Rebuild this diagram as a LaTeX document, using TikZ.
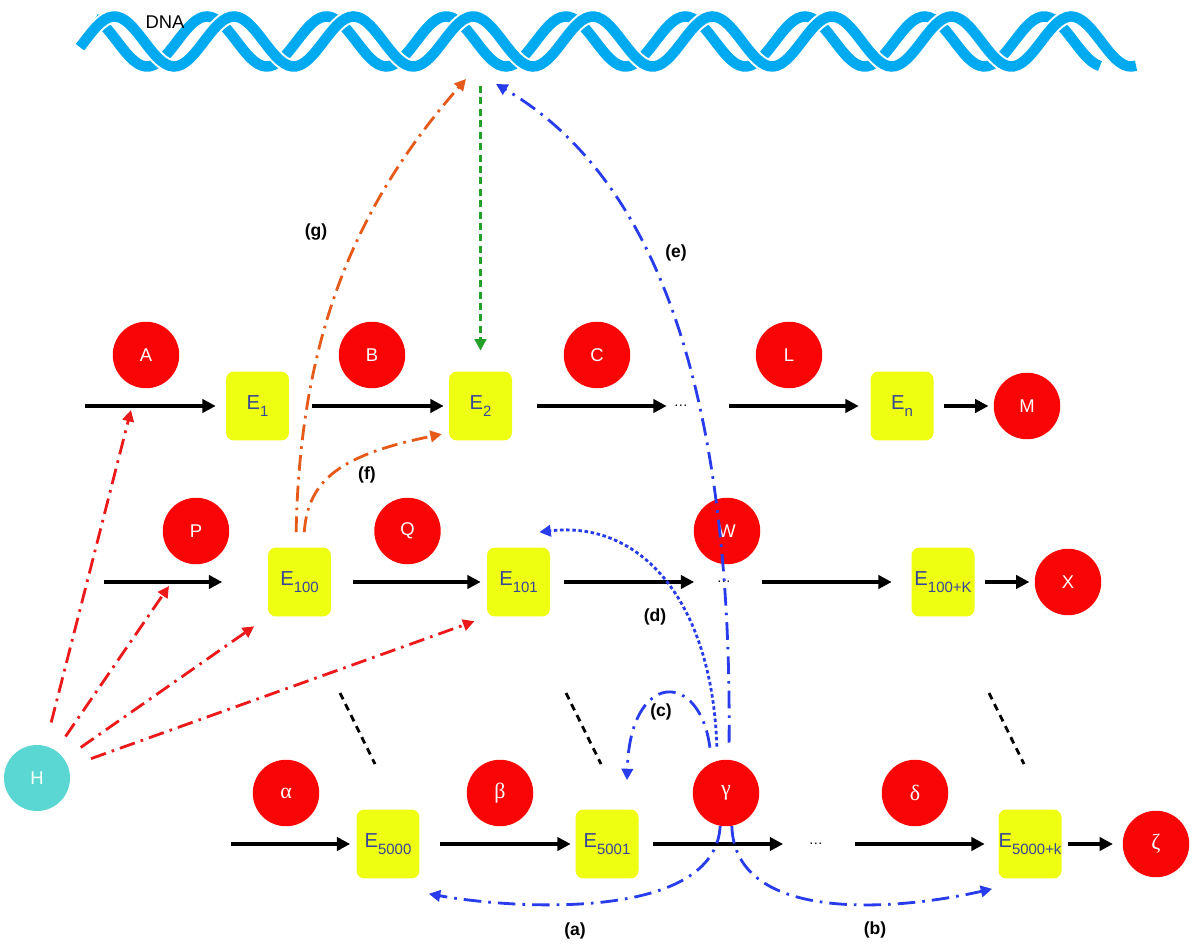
\documentclass[tikz,border=0pt]{standalone}
\usepackage{fontspec}
\setmainfont{Liberation Sans}
\newfontfamily\greekfont{Liberation Serif}
\usepackage{tikz}
\usetikzlibrary{arrows.meta}

\definecolor{dnablue}{RGB}{0,170,240}
\definecolor{molred}{RGB}{250,5,5}
\definecolor{enzyellow}{RGB}{238,255,18}
\definecolor{enztext}{RGB}{55,70,150}
\definecolor{hormcyan}{RGB}{90,215,210}
\definecolor{hred}{RGB}{235,25,25}
\definecolor{gorange}{RGB}{230,90,25}
\definecolor{dgreen}{RGB}{35,160,40}
\definecolor{fbblue}{RGB}{40,60,235}

\newcommand{\Esub}[1]{E\raisebox{-0.6ex}{\fontsize{8.5}{8.5}\selectfont #1}}
\newcommand{\gk}[1]{{\greekfont\fontsize{12.5}{12}\selectfont #1}}

\tikzset{
  mol/.style={circle, fill=molred, text=white, minimum size=1.33cm, inner sep=0pt,
    font=\fontsize{10.5}{12}\selectfont},
  enz/.style={rectangle, rounded corners=0.16cm, fill=enzyellow, text=enztext,
    minimum width=1.26cm, minimum height=1.38cm, inner sep=0pt,
    font=\fontsize{11.5}{12}\selectfont},
  dots/.style={inner sep=0pt, font=\fontsize{8}{8}\selectfont},
  lab/.style={font=\bfseries\fontsize{10}{12}\selectfont},
  flow/.style={line width=1.8pt, -{Triangle[length=7.5pt, width=7.5pt]}},
  ctrl/.style={line width=1.6pt, -{Triangle[length=6.5pt, width=6.5pt]}},
  hline/.style={ctrl, hred, dash pattern=on 9pt off 3.5pt on 1.5pt off 3.5pt},
  gline/.style={ctrl, gorange, dash pattern=on 9pt off 3.5pt on 1.5pt off 3.5pt},
  tline/.style={ctrl, dgreen, dash pattern=on 4pt off 2.5pt},
  fbline/.style={ctrl, fbblue, dash pattern=on 10pt off 4pt on 1.5pt off 4pt},
  fbdot/.style={ctrl, fbblue, dash pattern=on 2pt off 1.5pt},
  strand/.style={dnablue, line width=0.21cm},
  skip/.style={line width=1.6pt, dash pattern=on 4pt off 3pt}
}

\begin{document}
\begin{tikzpicture}[x=0.02cm, y=-0.02cm]
  \useasboundingbox (0,0) rectangle (1200,945);
  \def\rowa{406}
  \def\rowb{582}
  \def\rowc{844}
  % -------------------------------------------- DNA
  \draw[strand] plot[domain=95:1100, samples=260] (\x, {41.5+25*sin((\x-595.6)/119.6*360)});
  \draw[strand, white, line width=0.29cm] plot[domain=80:1136, samples=260] (\x, {41.5+25*sin((\x-622.6)/119.6*360)});
  \draw[strand] plot[domain=80:1136, samples=260] (\x, {41.5+25*sin((\x-622.6)/119.6*360)});
  \node[font=\fontsize{10.5}{12}\selectfont] at (165, 22) (dna_lab) {DNA};
  \coordinate (dna_g) at (466, 79);
  \coordinate (dna_t) at (480.5, 86);
  \coordinate (dna_e) at (496, 84);
  % -------------------------------------------- pathway 1
  % set the nodes
  \node[mol] at (146, 355) (r1_a) {A};
  \node[mol] at (372, 355) (r1_b) {B};
  \node[mol] at (597, 355) (r1_c) {C};
  \node[mol] at (789, 355) (r1_l) {L};
  \coordinate (r1_in) at (85, \rowa);
  \node[enz] at (257.5, \rowa) (r1_e1) {\Esub{1}};
  \node[enz] at (480.5, \rowa) (r1_e2) {\Esub{2}};
  \node[dots] at (681, \rowa) (r1_dots) {\ldots};
  \node[enz] at (902, \rowa) (r1_en) {\Esub{n}};
  \node[mol] at (1027, \rowa) (r1_m) {M};
  % draw edges
  \draw[flow, shorten >=0.2cm] (r1_in) -- (r1_e1);
  \draw[flow, shorten <=0.46cm, shorten >=0.1cm] (r1_e1) -- (r1_e2);
  \draw[flow, shorten <=0.5cm, shorten >=0.14cm] (r1_e2) -- (r1_dots);
  \draw[flow, shorten <=0.82cm, shorten >=0.23cm] (r1_dots) -- (r1_en);
  \draw[flow, shorten <=0.21cm, shorten >=0.1cm] (r1_en) -- (r1_m);
  % -------------------------------------------- pathway 2
  % set the nodes
  \node[mol] at (196, 531) (r2_p) {P};
  \node[mol] at (407.5, 531) (r2_q) {Q};
  \node[mol] at (727, 531) (r2_w) {W};
  \coordinate (r2_in) at (104, \rowb);
  \node[enz] at (299.5, \rowb) (r2_e100) {\Esub{100}};
  \node[enz] at (518.5, \rowb) (r2_e101) {\Esub{101}};
  \node[dots] at (724, \rowb) (r2_dots) {\ldots};
  \node[enz] at (943, \rowb) (r2_ek) {\Esub{100+K}};
  \node[mol] at (1068, \rowb) (r2_x) {X};
  % draw edges
  \draw[flow, shorten >=0.91cm] (r2_in) -- (r2_e100);
  \draw[flow, shorten <=0.44cm, shorten >=0.12cm] (r2_e100) -- (r2_e101);
  \draw[flow, shorten <=0.27cm, shorten >=0.45cm] (r2_e101) -- (r2_dots);
  \draw[flow, shorten <=0.62cm, shorten >=0.39cm] (r2_dots) -- (r2_ek);
  \draw[flow, shorten <=0.21cm, shorten >=0.1cm] (r2_ek) -- (r2_x);
  % -------------------------------------------- pathway 3
  % set the nodes
  \node[mol] at (286, 793) (r3_alpha) {\gk{α}};
  \node[mol] at (500, 793) (r3_beta) {\gk{β}};
  \node[mol] at (726, 793) (r3_gamma) {\gk{γ}};
  \node[mol] at (915, 793) (r3_delta) {\gk{δ}};
  \coordinate (r3_in) at (231, \rowc);
  \node[enz] at (388, \rowc) (r3_e5000) {\Esub{5000}};
  \node[enz] at (607, \rowc) (r3_e5001) {\Esub{5001}};
  \node[dots] at (816, \rowc) (r3_dots) {\ldots};
  \node[enz] at (1030, \rowc) (r3_ek) {\Esub{5000+k}};
  \node[mol] at (1156, \rowc) (r3_zeta) {\gk{ζ}};
  % draw edges
  \draw[flow, shorten >=0.12cm] (r3_in) -- (r3_e5000);
  \draw[flow, shorten <=0.41cm, shorten >=0.09cm] (r3_e5000) -- (r3_e5001);
  \draw[flow, shorten <=0.29cm, shorten >=0.51cm] (r3_e5001) -- (r3_dots);
  \draw[flow, shorten <=0.63cm, shorten >=0.27cm] (r3_dots) -- (r3_ek);
  \draw[flow, shorten <=0.13cm, shorten >=0.19cm] (r3_ek) -- (r3_zeta);
  % -------------------------------------------- more pathways in between
  \foreach \gx in {340, 566, 989}
    \draw[skip] (\gx, 693) -- ++(35, 71);
  % -------------------------------------------- hormone
  \node[circle, fill=hormcyan, text=white, minimum size=1.32cm, inner sep=0pt,
    font=\fontsize{10.5}{12}\selectfont] at (37, 778) (horm) {H};
  \coordinate (r1_hit) at (131, 410);
  \coordinate (r2_hit) at (169, 586);
  \draw[hline, shorten <=0.48cm] (horm) -- (r1_hit);
  \draw[hline, shorten <=0.34cm] (horm) -- (r2_hit);
  \draw[hline, shorten <=0.4cm, shorten >=0.33cm] (horm) -- (r2_e100.south west);
  \draw[hline, shorten <=0.48cm, shorten >=0.26cm] (horm) -- (r2_e101.south west);
  % -------------------------------------------- regulation
  \draw[tline, shorten >=0.41cm] (dna_t) -- (r1_e2);
  \draw[gline, shorten <=0.3cm] (r2_e100.96) .. controls (300,330) and (360,200) .. (dna_g);
  \draw[gline, shorten <=0.3cm, shorten >=0.14cm] (r2_e100.84) .. controls (308,480) and (340,455) .. (r1_e2.220);
  \draw[fbline, shorten <=0.34cm] (r3_gamma.85) .. controls (732,400) and (660,180) .. (dna_e);
  \draw[fbdot, shorten <=0.28cm] (r3_gamma.105) .. controls (712,600) and (640,520) .. ([shift={(-11,-15)}]r2_e101.north east);
  \draw[fbline, shorten <=0.3cm] (r3_gamma.115) .. controls (700,670) and (630,670) .. ([shift={(20,-29)}]r3_e5001.north);
  \draw[fbline] (r3_gamma.-100) .. controls (715,920) and (520,910) .. ([shift={(9,15)}]r3_e5000.south east);
  \draw[fbline] (r3_gamma.-80) .. controls (735,925) and (900,910) .. ([shift={(-6,10)}]r3_ek.south west);
  % -------------------------------------------- Names
  \node[lab] at (575, 931) (lab_a) {(a)};
  \node[lab] at (875, 930) (lab_b) {(b)};
  \node[lab] at (661, 712) (lab_c) {(c)};
  \node[lab] at (655, 617) (lab_d) {(d)};
  \node[lab] at (676, 253) (lab_e) {(e)};
  \node[lab] at (367, 475) (lab_f) {(f)};
  \node[lab] at (316, 232) (lab_g) {(g)};
\end{tikzpicture}
\end{document}
